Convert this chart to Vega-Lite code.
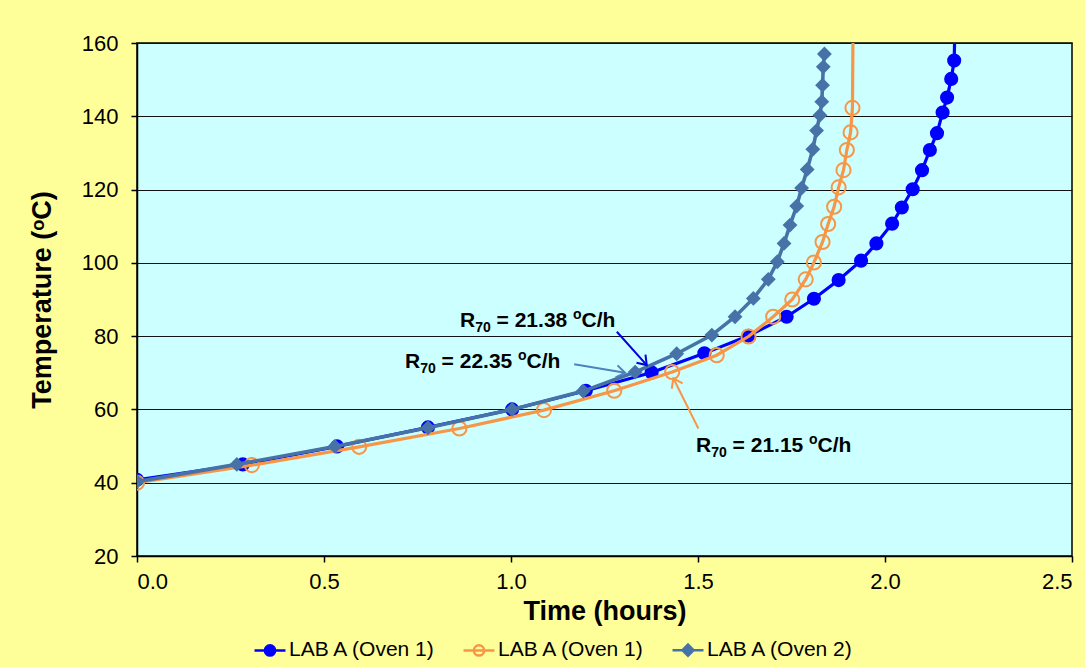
{
  "$schema": "https://vega.github.io/schema/vega-lite/v6.json",
  "width": 935,
  "height": 513,
  "autosize": {"type": "none"},
  "padding": {"left": 137, "top": 43, "right": 13, "bottom": 111},
  "background": "#FFFF99",
  "config": {
    "font": "Liberation Sans",
    "view": {"fill": "#CCFFFF", "stroke": "#000000", "strokeWidth": 1.5},
    "axis": {
      "domainColor": "#000000", "domainWidth": 1.5,
      "tickColor": "#000000", "tickWidth": 1.5, "tickSize": 6,
      "labelFont": "Liberation Sans", "labelColor": "#000000", "labelFontSize": 22,
      "titleFont": "Liberation Sans", "titleColor": "#000000", "titleFontSize": 27, "titleFontWeight": "bold"
    }
  },
  "datasets": {
    "series": [
      {"s": "s1", "t": 0, "T": 40.8}, {"s": "s1", "t": 0.283, "T": 45}, {"s": "s1", "t": 0.535, "T": 49.9},
      {"s": "s1", "t": 0.778, "T": 55.1}, {"s": "s1", "t": 1.003, "T": 60}, {"s": "s1", "t": 1.2, "T": 65.1},
      {"s": "s1", "t": 1.376, "T": 70.1}, {"s": "s1", "t": 1.517, "T": 75.3}, {"s": "s1", "t": 1.635, "T": 80.1},
      {"s": "s1", "t": 1.737, "T": 85.3}, {"s": "s1", "t": 1.81, "T": 90.2}, {"s": "s1", "t": 1.876, "T": 95.3},
      {"s": "s1", "t": 1.936, "T": 100.6}, {"s": "s1", "t": 1.977, "T": 105.3}, {"s": "s1", "t": 2.019, "T": 110.7},
      {"s": "s1", "t": 2.045, "T": 115.1}, {"s": "s1", "t": 2.074, "T": 120.1}, {"s": "s1", "t": 2.099, "T": 125.3},
      {"s": "s1", "t": 2.12, "T": 130.8}, {"s": "s1", "t": 2.139, "T": 135.4}, {"s": "s1", "t": 2.154, "T": 141.0},
      {"s": "s1", "t": 2.166, "T": 145.1}, {"s": "s1", "t": 2.177, "T": 150.2}, {"s": "s1", "t": 2.185, "T": 155.2},
      {"s": "s1", "t": 2.19, "T": 180},
      {"s": "s2", "t": 0, "T": 40}, {"s": "s2", "t": 0.307, "T": 44.8}, {"s": "s2", "t": 0.594, "T": 49.8},
      {"s": "s2", "t": 0.862, "T": 54.8}, {"s": "s2", "t": 1.088, "T": 59.8}, {"s": "s2", "t": 1.276, "T": 65.1},
      {"s": "s2", "t": 1.431, "T": 70.2}, {"s": "s2", "t": 1.55, "T": 74.8}, {"s": "s2", "t": 1.635, "T": 79.9},
      {"s": "s2", "t": 1.701, "T": 85.3}, {"s": "s2", "t": 1.752, "T": 90.0}, {"s": "s2", "t": 1.788, "T": 95.5},
      {"s": "s2", "t": 1.81, "T": 100.1}, {"s": "s2", "t": 1.833, "T": 105.7}, {"s": "s2", "t": 1.848, "T": 110.6},
      {"s": "s2", "t": 1.864, "T": 115.3}, {"s": "s2", "t": 1.876, "T": 120.6}, {"s": "s2", "t": 1.889, "T": 125.3},
      {"s": "s2", "t": 1.898, "T": 130.8}, {"s": "s2", "t": 1.908, "T": 135.6}, {"s": "s2", "t": 1.913, "T": 142.3},
      {"s": "s2", "t": 1.916, "T": 185},
      {"s": "s3", "t": 0, "T": 40.3}, {"s": "s3", "t": 0.267, "T": 45}, {"s": "s3", "t": 0.529, "T": 49.9},
      {"s": "s3", "t": 0.778, "T": 55}, {"s": "s3", "t": 1.003, "T": 60}, {"s": "s3", "t": 1.193, "T": 65},
      {"s": "s3", "t": 1.332, "T": 70.2}, {"s": "s3", "t": 1.443, "T": 75.2}, {"s": "s3", "t": 1.537, "T": 80.3},
      {"s": "s3", "t": 1.599, "T": 85.3}, {"s": "s3", "t": 1.648, "T": 90.3}, {"s": "s3", "t": 1.688, "T": 95.5},
      {"s": "s3", "t": 1.712, "T": 100.3}, {"s": "s3", "t": 1.73, "T": 105.3}, {"s": "s3", "t": 1.746, "T": 110.3},
      {"s": "s3", "t": 1.764, "T": 115.5}, {"s": "s3", "t": 1.777, "T": 120.4}, {"s": "s3", "t": 1.792, "T": 125.5},
      {"s": "s3", "t": 1.807, "T": 131.0}, {"s": "s3", "t": 1.817, "T": 136.1}, {"s": "s3", "t": 1.826, "T": 140.3},
      {"s": "s3", "t": 1.831, "T": 144.0}, {"s": "s3", "t": 1.833, "T": 148.5}, {"s": "s3", "t": 1.835, "T": 153.5},
      {"s": "s3", "t": 1.838, "T": 157.0}
    ],
    "labels": [
      {"t": 0.8636, "T": 82.57, "val": "= 21.38"},
      {"t": 0.7166, "T": 71.22, "val": "= 22.35"},
      {"t": 1.4947, "T": 48.46, "val": "= 21.15"}
    ],
    "arrows": [
      {"a": "blue", "t": 1.283, "T": 81.2, "t2": 1.363, "T2": 72.1},
      {"a": "steel", "t": 1.169, "T": 72.3, "t2": 1.305, "T2": 70.0},
      {"a": "orange", "t": 1.501, "T": 54.8, "t2": 1.434, "T2": 68.5}
    ]
  },
  "encoding": {
    "x": {"field": "t", "type": "quantitative",
      "scale": {"domain": [0, 2.5], "nice": false, "zero": false},
      "axis": {"title": "Time (hours)", "values": [0, 0.5, 1, 1.5, 2, 2.5], "format": ".1f", "grid": false, "labelPadding": 9, "titlePadding": 6}},
    "y": {"field": "T", "type": "quantitative",
      "scale": {"domain": [20, 160], "nice": false, "zero": false},
      "axis": {"title": "Temperature (ᵒC)", "values": [20, 40, 60, 80, 100, 120, 140, 160], "grid": true, "gridColor": "#111111", "gridWidth": 1.2, "labelPadding": 13, "titlePadding": 25}}
  },
  "layer": [
    {"data": {"name": "series"}, "transform": [{"filter": "datum.s == 's1'"}],
     "mark": {"type": "line", "color": "#0000FF", "strokeWidth": 3.2, "clip": true}},
    {"data": {"name": "series"}, "transform": [{"filter": "datum.s == 's1'"}],
     "mark": {"type": "point", "shape": "circle", "filled": true, "color": "#0000FF", "size": 200, "opacity": 1, "clip": true}},
    {"data": {"name": "series"}, "transform": [{"filter": "datum.s == 's2'"}],
     "mark": {"type": "line", "color": "#F79646", "strokeWidth": 3.2, "clip": true}},
    {"data": {"name": "series"}, "transform": [{"filter": "datum.s == 's2'"}],
     "mark": {"type": "point", "shape": "circle", "filled": false, "fill": null, "stroke": "#F79646", "strokeWidth": 2, "size": 200, "opacity": 1, "clip": true}},
    {"data": {"name": "series"}, "transform": [{"filter": "datum.s == 's3'"}],
     "mark": {"type": "line", "color": "#4672A8", "strokeWidth": 3.6, "clip": true}},
    {"data": {"name": "series"}, "transform": [{"filter": "datum.s == 's3'"}],
     "mark": {"type": "point", "shape": "diamond", "filled": true, "color": "#4672A8", "size": 220, "opacity": 1, "clip": true}},
    {"data": {"name": "arrows"}, "transform": [{"filter": "datum.a == 'blue'"}],
     "mark": {"type": "rule", "color": "#0000E0", "strokeWidth": 2},
     "encoding": {"x2": {"field": "t2"}, "y2": {"field": "T2"}}},
    {"data": {"name": "arrows"}, "transform": [{"filter": "datum.a == 'blue'"}],
     "mark": {"type": "point", "shape": "M-1,-0.7L0,0L-1,0.7", "filled": false, "stroke": "#0000E0", "strokeWidth": 2, "size": 300, "angle": 48, "opacity": 1},
     "encoding": {"x": {"field": "t2", "type": "quantitative"}, "y": {"field": "T2", "type": "quantitative"}}},
    {"data": {"name": "arrows"}, "transform": [{"filter": "datum.a == 'steel'"}],
     "mark": {"type": "rule", "color": "#4F81BD", "strokeWidth": 2},
     "encoding": {"x2": {"field": "t2"}, "y2": {"field": "T2"}}},
    {"data": {"name": "arrows"}, "transform": [{"filter": "datum.a == 'steel'"}],
     "mark": {"type": "point", "shape": "M-1,-0.7L0,0L-1,0.7", "filled": false, "stroke": "#4F81BD", "strokeWidth": 2, "size": 300, "angle": 9.4, "opacity": 1},
     "encoding": {"x": {"field": "t2", "type": "quantitative"}, "y": {"field": "T2", "type": "quantitative"}}},
    {"data": {"name": "arrows"}, "transform": [{"filter": "datum.a == 'orange'"}],
     "mark": {"type": "rule", "color": "#F79646", "strokeWidth": 2},
     "encoding": {"x2": {"field": "t2"}, "y2": {"field": "T2"}}},
    {"data": {"name": "arrows"}, "transform": [{"filter": "datum.a == 'orange'"}],
     "mark": {"type": "point", "shape": "M-1,-0.7L0,0L-1,0.7", "filled": false, "stroke": "#F79646", "strokeWidth": 2, "size": 300, "angle": 243.4, "opacity": 1},
     "encoding": {"x": {"field": "t2", "type": "quantitative"}, "y": {"field": "T2", "type": "quantitative"}}},
    {"data": {"name": "labels"},
     "mark": {"type": "text", "text": "R", "font": "Liberation Sans", "fontWeight": "bold", "fontSize": 21, "color": "#000000", "align": "left", "baseline": "alphabetic"}},
    {"data": {"name": "labels"},
     "mark": {"type": "text", "text": "70", "font": "Liberation Sans", "fontWeight": "bold", "fontSize": 14, "color": "#000000", "align": "left", "baseline": "alphabetic", "dx": 15.2, "dy": 5}},
    {"data": {"name": "labels"},
     "mark": {"type": "text", "font": "Liberation Sans", "fontWeight": "bold", "fontSize": 21, "color": "#000000", "align": "left", "baseline": "alphabetic", "dx": 36.6},
     "encoding": {"text": {"field": "val"}}},
    {"data": {"name": "labels"},
     "mark": {"type": "text", "text": "o", "font": "Liberation Sans", "fontWeight": "bold", "fontSize": 14, "color": "#000000", "align": "left", "baseline": "alphabetic", "dx": 113, "dy": -8}},
    {"data": {"name": "labels"},
     "mark": {"type": "text", "text": "C/h", "font": "Liberation Sans", "fontWeight": "bold", "fontSize": 21, "color": "#000000", "align": "left", "baseline": "alphabetic", "dx": 121.6}},
    {"data": {"name": "series"}, "transform": [{"filter": "false"}],
     "mark": {"type": "point", "opacity": 1, "strokeWidth": 2.5},
     "encoding": {
       "shape": {"field": "s", "type": "nominal",
         "scale": {"domain": ["s1", "s2", "s3"], "range": [
           "M-1,0H1M0.33,0A0.33,0.33,0,1,1,-0.33,0A0.33,0.33,0,1,1,0.33,0Z",
           "M-1,0H1M0.33,0A0.33,0.33,0,1,1,-0.33,0A0.33,0.33,0,1,1,0.33,0Z",
           "M-1,0H1M0,-0.36L0.36,0L0,0.36L-0.36,0Z"]},
         "legend": {
           "title": null, "orient": "none", "direction": "horizontal", "legendX": 116, "legendY": 590,
           "symbolSize": 960, "symbolStrokeWidth": 2.5, "labelOffset": 2, "columnPadding": 21,
           "labelFont": "Liberation Sans", "labelFontSize": 21, "labelColor": "#000000",
           "labelExpr": "datum.value == 's3' ? 'LAB A (Oven 2)' : 'LAB A (Oven 1)'"}},
       "fill": {"field": "s", "type": "nominal", "scale": {"domain": ["s1", "s2", "s3"], "range": ["#0000FF", "transparent", "#4672A8"]}},
       "stroke": {"field": "s", "type": "nominal", "scale": {"domain": ["s1", "s2", "s3"], "range": ["#0000FF", "#F79646", "#4672A8"]}}
     }}
  ]
}
